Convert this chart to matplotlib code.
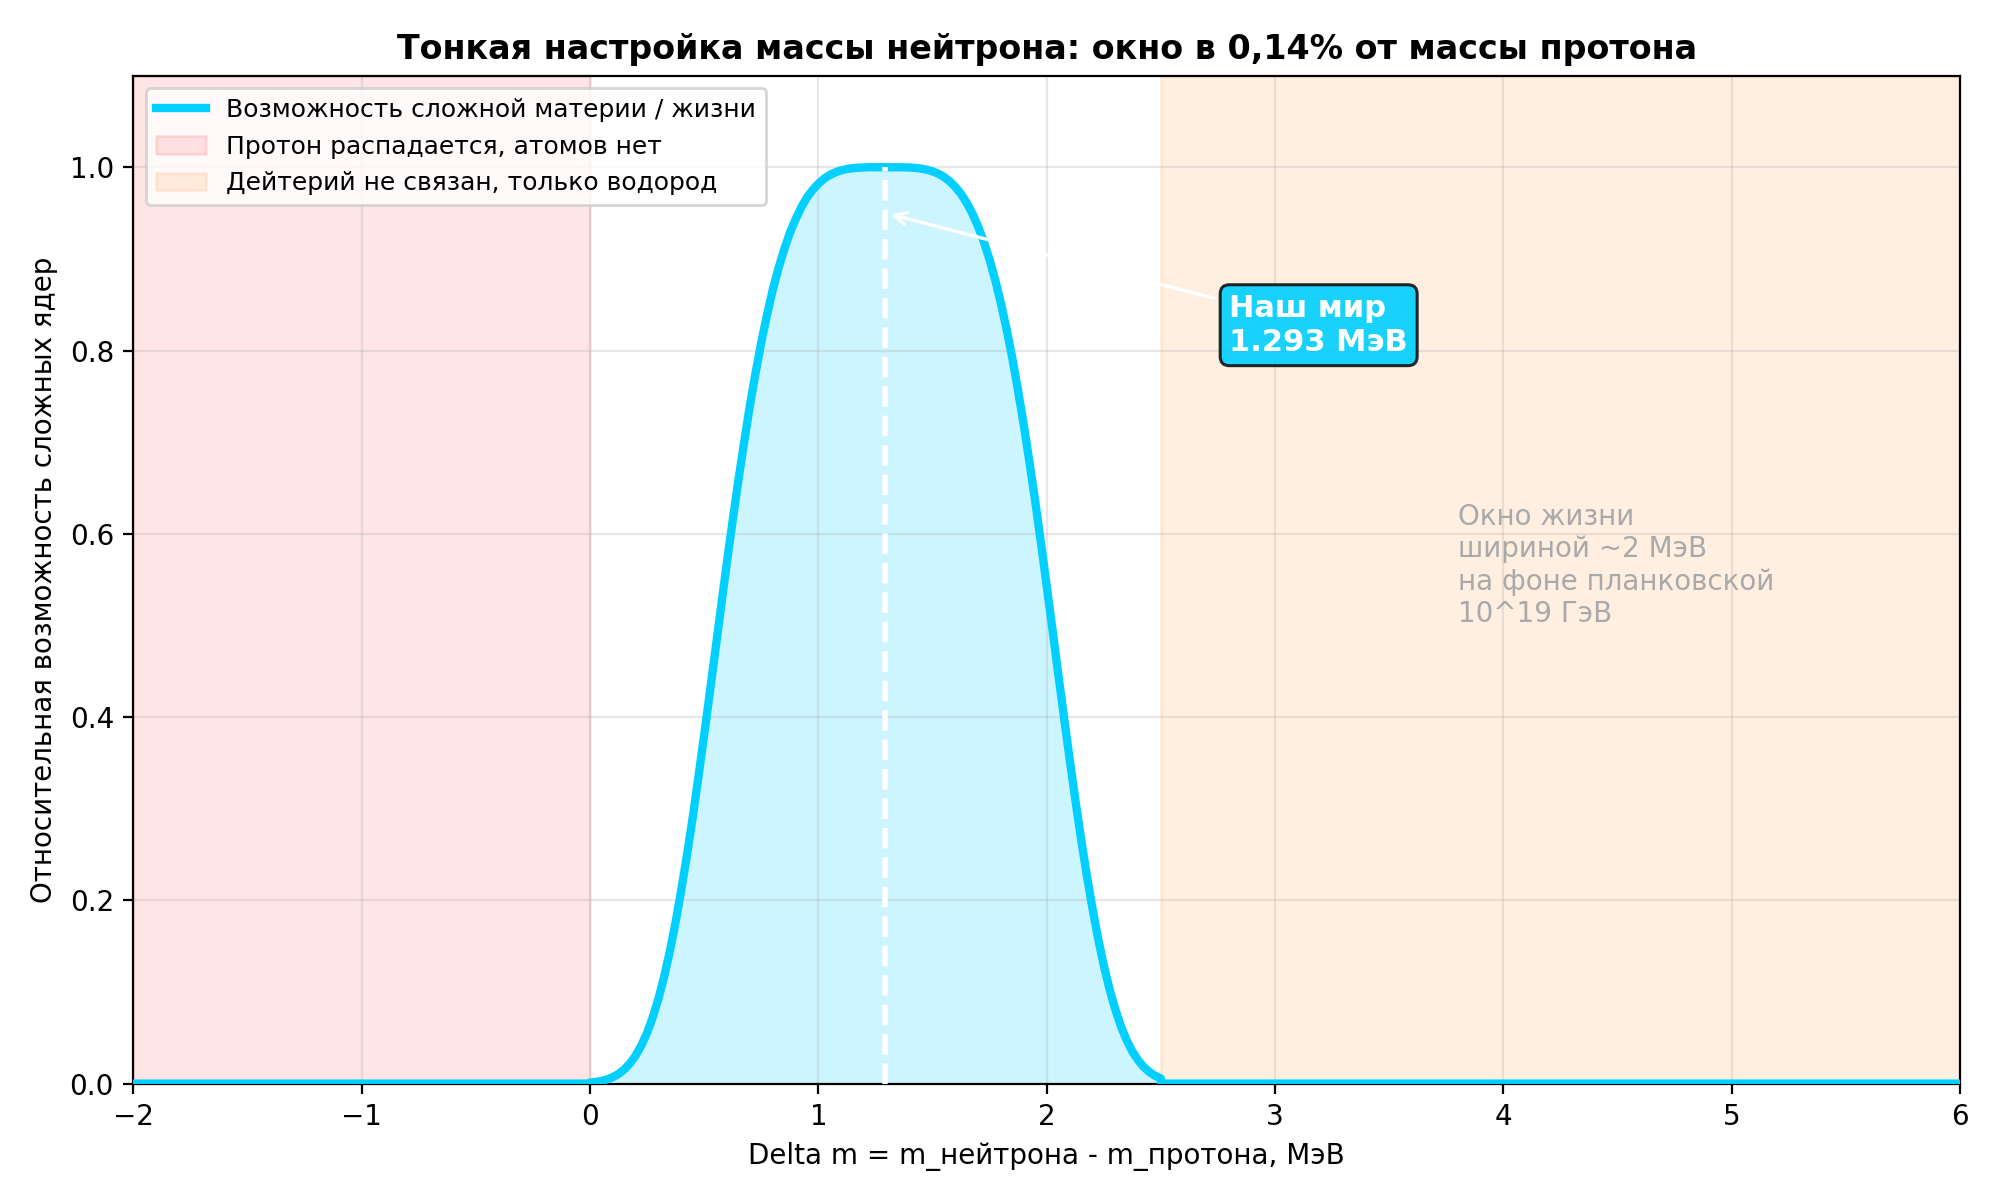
import matplotlib
matplotlib.use("Agg")
import matplotlib.pyplot as plt

# ---- data ----
mass_diff = [-2.000, 0.000,
             0.000, 0.025, 0.050, 0.075, 0.100, 0.125, 0.150, 0.175, 0.200, 0.225,
             0.250, 0.275, 0.300, 0.325, 0.350, 0.375, 0.400, 0.425, 0.450, 0.475,
             0.500, 0.525, 0.550, 0.575, 0.600, 0.625, 0.650, 0.675, 0.700, 0.725,
             0.750, 0.775, 0.800, 0.825, 0.850, 0.875, 0.900, 0.925, 0.950, 0.975,
             1.000, 1.025, 1.050, 1.075, 1.100, 1.125, 1.150, 1.175, 1.200, 1.225,
             1.250, 1.275, 1.300, 1.325, 1.350, 1.375, 1.400, 1.425, 1.450, 1.475,
             1.500, 1.525, 1.550, 1.575, 1.600, 1.625, 1.650, 1.675, 1.700, 1.725,
             1.750, 1.775, 1.800, 1.825, 1.850, 1.875, 1.900, 1.925, 1.950, 1.975,
             2.000, 2.025, 2.050, 2.075, 2.100, 2.125, 2.150, 2.175, 2.200, 2.225,
             2.250, 2.275, 2.300, 2.325, 2.350, 2.375, 2.400, 2.425, 2.450, 2.475,
             2.500,
             2.500, 6.000]
viability = [0.0, 0.0,
             0.0011, 0.0018, 0.0029, 0.0046, 0.0071, 0.0106, 0.0155, 0.0221, 0.0307, 0.0418,
             0.0556, 0.0727, 0.0931, 0.1172, 0.1450, 0.1766, 0.2120, 0.2501, 0.2910, 0.3352,
             0.3810, 0.4277, 0.4750, 0.5226, 0.5700, 0.6150, 0.6590, 0.7000, 0.7400, 0.7756,
             0.8090, 0.8388, 0.8660, 0.8895, 0.9100, 0.9282, 0.9430, 0.9562, 0.9670, 0.9753,
             0.9820, 0.9875, 0.9915, 0.9945, 0.9966, 0.9981, 0.9990, 0.9995, 0.9998, 1.0000,
             1.0000, 1.0000, 1.0000, 1.0000, 1.0000, 0.9999, 0.9997, 0.9993, 0.9985, 0.9973,
             0.9955, 0.9930, 0.9894, 0.9847, 0.9785, 0.9708, 0.9610, 0.9493, 0.9350, 0.9185,
             0.8990, 0.8765, 0.8510, 0.8224, 0.7910, 0.7557, 0.7180, 0.6774, 0.6350, 0.5897,
             0.5430, 0.4961, 0.4480, 0.4013, 0.3550, 0.3104, 0.2680, 0.2282, 0.1920, 0.1585,
             0.1290, 0.1033, 0.0813, 0.0627, 0.0474, 0.0352, 0.0256, 0.0182, 0.0126, 0.0085,
             0.0056,
             0.0, 0.0]

our_world = 1.293
proton_decay_range = (-2.0, 0.0)
no_deuterium_range = (2.5, 6.0)

title = "Тонкая настройка массы нейтрона: окно в 0,14% от массы протона"
xlabel = "Delta m = m_нейтрона - m_протона, МэВ"
ylabel = "Относительная возможность сложных ядер"
label_curve = "Возможность сложной материи / жизни"
label_red = "Протон распадается, атомов нет"
label_orange = "Дейтерий не связан, только водород"
annot_text = "Наш мир\n1.293 МэВ"
note_text = "Окно жизни\nшириной ~2 МэВ\nна фоне планковской\n10^19 ГэВ"

CYAN = "#00cfff"

fig = plt.figure(figsize=(10, 6), dpi=200)
ax = fig.add_axes([0.0667, 0.097, 0.9133, 0.840])

ax.plot(mass_diff, viability, color=CYAN, lw=3.0, label=label_curve, zorder=3)
ax.axvspan(*proton_decay_range, color="red", alpha=0.1, label=label_red)
ax.axvspan(*no_deuterium_range, color="tab:orange", alpha=0.12, label=label_orange)
ax.fill_between(mass_diff, viability, 0, color=CYAN, alpha=0.2, lw=0)
ax.vlines(our_world, 0, 1.0, colors="white", linestyles="--", lw=2.0, zorder=4)

ax.annotate(annot_text, xy=(our_world, 0.95), xytext=(2.8, 0.8),
            fontsize=11, fontweight="bold", color="white",
            bbox=dict(boxstyle="round,pad=0.3", facecolor=CYAN, edgecolor="#111111",
                      alpha=0.9, lw=1.1),
            arrowprops=dict(arrowstyle="->", color="white", lw=1.2),
            zorder=5)

ax.text(3.8, 0.497, note_text, fontsize=10, color="#a9a9a9", va="bottom", ha="left")

ax.set_xlim(-2, 6)
ax.set_ylim(0, 1.1)
ax.set_yticks([0.0, 0.2, 0.4, 0.6, 0.8, 1.0])
ax.grid(True, alpha=0.3)
ax.set_title(title, fontsize=12, fontweight="bold")
ax.set_xlabel(xlabel, fontsize=10)
ax.set_ylabel(ylabel, fontsize=10)
ax.tick_params(labelsize=10)
ax.legend(loc="upper left", fontsize=9)

fig.savefig("out.png", dpi=200)
